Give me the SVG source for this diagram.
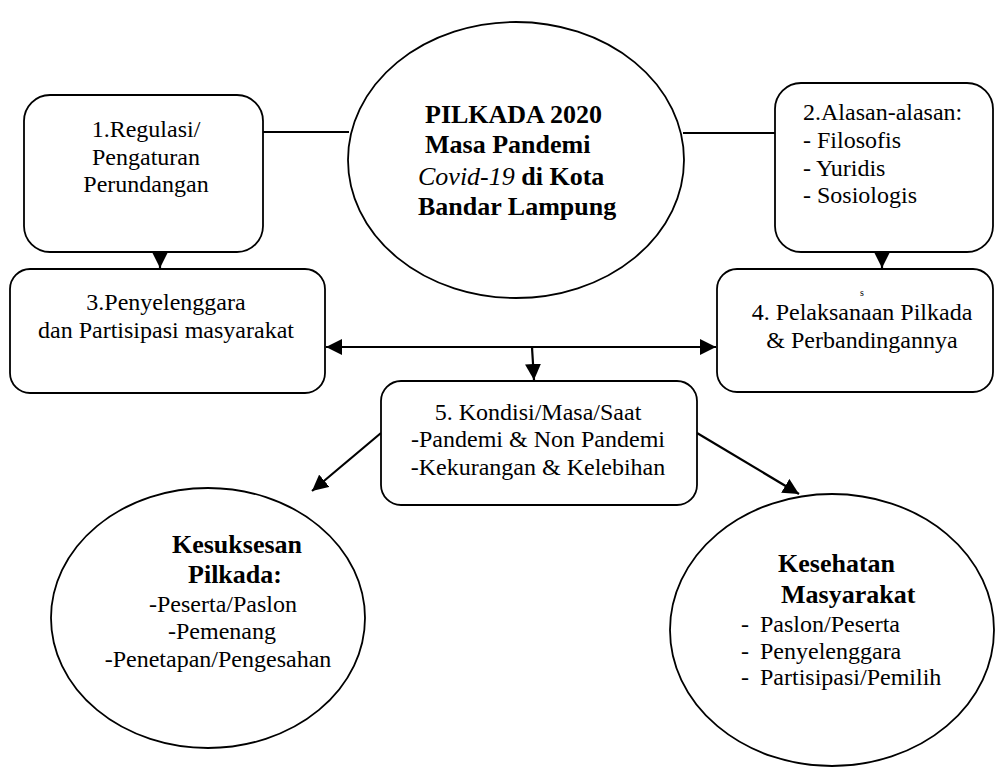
<svg xmlns="http://www.w3.org/2000/svg" width="995" height="769" viewBox="0 0 995 769">
<defs>
<style>
.shape{fill:#fff;stroke:#000;stroke-width:1.8}
text{font-family:'Liberation Serif','Tinos','Times New Roman','Nimbus Roman','DejaVu Serif',serif;fill:#000}
.t{font-size:24px}
.b{font-size:26px;font-weight:bold}
.c{stroke:#000;stroke-width:2.2;fill:none}
.m{text-anchor:middle}
</style>
<marker id="ah" viewBox="0 0 10 10" refX="10" refY="5" markerWidth="16" markerHeight="16" markerUnits="userSpaceOnUse" orient="auto-start-reverse">
<path d="M0,0 L10,5 L0,10 Z" fill="#000"/>
</marker>
</defs>
<rect width="995" height="769" fill="#fff"/>

<g id="connectors">
<line class="c" x1="263" y1="132" x2="349" y2="132"/>
<line class="c" x1="683" y1="133" x2="775" y2="133"/>
<line class="c" x1="160" y1="252" x2="160" y2="268" marker-end="url(#ah)"/>
<line class="c" x1="882" y1="252" x2="882" y2="268" marker-end="url(#ah)"/>
<line class="c" x1="326" y1="347" x2="716" y2="347" marker-start="url(#ah)" marker-end="url(#ah)"/>
<line class="c" x1="532" y1="347" x2="534" y2="380" marker-end="url(#ah)"/>
<line class="c" x1="381" y1="433" x2="312" y2="491" marker-end="url(#ah)"/>
<line class="c" x1="697" y1="433" x2="799" y2="494" marker-end="url(#ah)"/>
</g>

<g id="center">
<ellipse class="shape" cx="516" cy="160" rx="168" ry="138"/>
<text class="b" x="425" y="123">PILKADA 2020</text>
<text class="b" x="425" y="153">Masa Pandemi</text>
<text class="b" x="418" y="185"><tspan font-style="italic" font-weight="normal">Covid-19</tspan> di Kota</text>
<text class="b" x="418" y="215">Bandar Lampung</text>
</g>

<g id="n1">
<rect class="shape" x="24" y="95" width="239" height="157" rx="26"/>
<text class="t m" x="146" y="137">1.Regulasi/</text>
<text class="t m" x="146" y="165">Pengaturan</text>
<text class="t m" x="146" y="192">Perundangan</text>
</g>

<g id="n2">
<rect class="shape" x="775" y="83" width="218" height="169" rx="26"/>
<text class="t" x="803" y="120">2.Alasan-alasan:</text>
<text class="t" x="803" y="148">- Filosofis</text>
<text class="t" x="803" y="176">- Yuridis</text>
<text class="t" x="803" y="203">- Sosiologis</text>
</g>

<g id="n3">
<rect class="shape" x="10" y="269" width="315" height="124" rx="20"/>
<text class="t m" x="166" y="310">3.Penyelenggara</text>
<text class="t m" x="166" y="338">dan Partisipasi masyarakat</text>
</g>

<g id="n4">
<rect class="shape" x="717" y="269" width="276" height="123" rx="20"/>
<text class="m" x="862" y="296" font-size="10">s</text>
<text class="t m" x="862" y="320">4. Pelaksanaan Pilkada</text>
<text class="t m" x="862" y="348">&amp; Perbandingannya</text>
</g>

<g id="n5">
<rect class="shape" x="381" y="381" width="316" height="124" rx="20"/>
<text class="t m" x="538" y="420">5. Kondisi/Masa/Saat</text>
<text class="t m" x="538" y="447">-Pandemi &amp; Non Pandemi</text>
<text class="t m" x="538" y="475">-Kekurangan &amp; Kelebihan</text>
</g>

<g id="n6">
<ellipse class="shape" cx="208" cy="618" rx="157" ry="130"/>
<text class="b m" x="237" y="553">Kesuksesan</text>
<text class="b m" x="235" y="583">Pilkada:</text>
<text class="t m" x="223" y="612">-Peserta/Paslon</text>
<text class="t m" x="222" y="639">-Pemenang</text>
<text class="t m" x="218" y="667">-Penetapan/Pengesahan</text>
</g>

<g id="n7">
<ellipse class="shape" cx="832" cy="630" rx="162" ry="136"/>
<text class="b" x="778" y="572">Kesehatan</text>
<text class="b" x="781" y="603">Masyarakat</text>
<text class="t" x="741" y="632">-</text>
<text class="t" x="760" y="632">Paslon/Peserta</text>
<text class="t" x="741" y="659">-</text>
<text class="t" x="760" y="659">Penyelenggara</text>
<text class="t" x="741" y="685">-</text>
<text class="t" x="760" y="685">Partisipasi/Pemilih</text>
</g>
</svg>
